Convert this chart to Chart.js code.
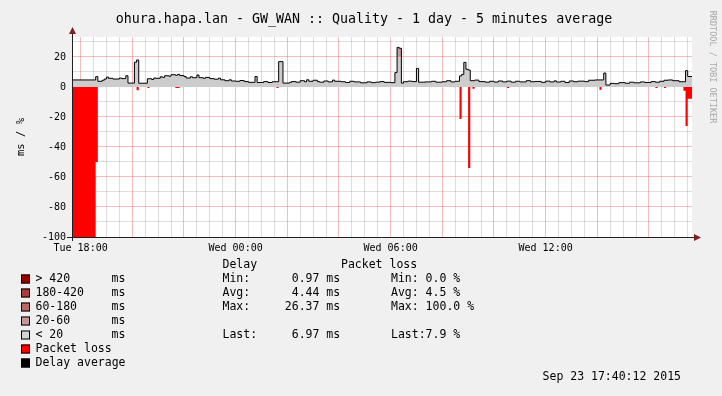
<!DOCTYPE html>
<html lang="en">
<head>
  <meta charset="UTF-8">
  <title>GW_WAN Quality</title>
  <script src="https://cdn.jsdelivr.net/npm/chart.js"></script>
  <style>
    html, body { margin: 0; padding: 0; background: #f0f0f0; }
    #wrap { position: relative; width: 722px; height: 396px; }
  </style>
</head>
<body>
  <div id="wrap"><canvas id="quality" width="722" height="396"></canvas></div>

  <script>
    // minutes since Tue 17:40 (graph start), one day wide
    var delayMin = [0, 55, 60, 70, 75, 80, 85, 95, 110, 115, 125, 130, 145, 150, 155, 175, 185, 190, 195, 205,
      210, 215, 225, 230, 240, 245, 250, 260, 265, 275, 280, 290, 295, 305, 310, 320, 330, 340, 345, 355,
      365, 370, 380, 390, 400, 410, 425, 430, 445, 455, 465, 480, 490, 505, 510, 520, 530, 540, 545, 550,
      560, 570, 575, 585, 595, 605, 610, 625, 635, 645, 655, 670, 685, 695, 705, 715, 725, 740, 750, 755,
      760, 765, 770, 780, 790, 800, 805, 820, 835, 845, 860, 870, 880, 890, 900, 905, 910, 915, 920, 925,
      935, 945, 960, 970, 980, 990, 1000, 1010, 1020, 1030, 1040, 1055, 1065, 1075, 1090, 1100, 1110, 1120, 1125, 1135,
      1145, 1155, 1165, 1175, 1190, 1200, 1215, 1235, 1240, 1250, 1260, 1270, 1285, 1295, 1305, 1320, 1330, 1345, 1355, 1365,
      1375, 1385, 1395, 1410, 1425, 1430, 1440];
    var delayMs = [4.7, 6.9, 3.8, 4.5, 5.3, 6.6, 5.8, 5.3, 6.0, 5.6, 7.5, 2.6, 16.5, 18.0, 2.5, 5.5, 5.0, 6.0, 5.8, 6.8,
      6.4, 7.5, 7.2, 8.2, 7.8, 8.4, 7.6, 7.0, 6.0, 6.8, 6.2, 8.0, 6.2, 5.8, 6.4, 5.6, 5.2, 5.9, 4.8, 4.2,
      4.8, 4.0, 3.8, 4.3, 3.6, 3.1, 7.0, 3.0, 3.6, 3.0, 3.5, 16.9, 2.6, 3.1, 3.6, 3.2, 4.2, 3.5, 4.8, 3.8,
      4.5, 3.6, 3.2, 4.0, 3.4, 4.6, 3.8, 3.5, 3.0, 3.8, 3.4, 2.8, 3.4, 2.9, 3.2, 3.6, 3.1, 2.9, 9.6, 26.4,
      25.8, 2.6, 3.5, 3.9, 3.6, 12.4, 3.2, 3.4, 3.8, 3.2, 3.5, 4.2, 3.4, 3.8, 7.4, 8.4, 16.4, 11.8, 11.3, 4.2,
      4.6, 3.6, 3.2, 3.8, 3.3, 4.0, 3.4, 3.9, 3.2, 3.8, 3.4, 4.2, 3.5, 3.7, 3.1, 3.9, 3.4, 4.1, 3.3, 3.8,
      3.0, 4.0, 3.5, 3.9, 3.6, 4.5, 4.7, 9.3, 1.3, 2.4, 2.2, 2.9, 2.5, 3.2, 2.8, 3.4, 3.0, 3.6, 3.2, 3.8,
      4.5, 4.7, 4.2, 3.5, 10.9, 7.0, 7.0];

    var lossMin = [0, 55, 60, 150, 155, 175, 180, 240, 250, 475, 480, 900, 905, 920, 925, 930, 935,
      1010, 1015, 1225, 1230, 1355, 1360, 1375, 1380, 1420, 1425, 1430, 1440];
    var lossPct = [100, 50, 0, 2.2, 0, 0.6, 0, 0.6, 0, 0.6, 0, 21.3, 0, 54, 0, 1.2, 0,
      0.6, 0, 1.8, 0, 0.6, 0, 0.6, 0, 2.5, 26, 7.9, 7.9];

    var xLabelAt = [20, 380, 740, 1100];
    var xLabels = ['Tue 18:00', 'Wed 00:00', 'Wed 06:00', 'Wed 12:00'];
    var yMin = -100, yMax = 33.33;

    var MONO = '"DejaVu Sans Mono", monospace';
    var delayPts = delayMin.map(function (m, i) { return { x: m, y: delayMs[i] }; });
    var lossPts = lossMin.map(function (m, i) { return { x: m, y: -lossPct[i] }; });

    // background, title and legend table (rrdtool look)
    var decor = {
      id: 'decor',
      beforeDraw: function (chart) {
        var c = chart.ctx, a = chart.chartArea;
        c.save();
        c.fillStyle = '#f0f0f0';
        c.fillRect(0, 0, chart.width, chart.height);
        c.fillStyle = '#ffffff';
        c.fillRect(a.left, a.top, a.right - a.left, a.bottom - a.top);
        c.restore();
      },
      afterDraw: function (chart) {
        var c = chart.ctx, a = chart.chartArea;
        c.save();
        // axes with arrows
        c.strokeStyle = '#1f1f1f';
        c.lineWidth = 1;
        c.beginPath();
        c.moveTo(67, a.bottom + 0.5); c.lineTo(696, a.bottom + 0.5);
        c.moveTo(a.left + 0.5, a.bottom + 4); c.lineTo(a.left + 0.5, 31);
        c.stroke();
        c.fillStyle = '#801f1f';
        c.beginPath();
        c.moveTo(701, a.bottom + 0.5); c.lineTo(694, a.bottom - 3); c.lineTo(694, a.bottom + 4); c.closePath();
        c.fill();
        c.beginPath();
        c.moveTo(a.left + 0.5, 27); c.lineTo(a.left - 3, 34); c.lineTo(a.left + 4, 34); c.closePath();
        c.fill();

        c.fillStyle = '#000';
        c.textBaseline = 'middle';
        c.textAlign = 'center';
        c.font = '13.3px ' + MONO;
        c.fillText('ohura.hapa.lan - GW_WAN :: Quality - 1 day - 5 minutes average', 364, 20);

        c.save();
        c.translate(21, 137);
        c.rotate(-Math.PI / 2);
        c.font = '10.5px ' + MONO;
        c.fillText('ms / %', 0, 0);
        c.restore();

        c.save();
        c.translate(712, 67);
        c.rotate(Math.PI / 2);
        c.fillStyle = '#a8a8a8';
        c.font = '8.5px ' + MONO;
        c.fillText('RRDTOOL / TOBI OETIKER', 0, 0);
        c.restore();

        c.textAlign = 'left';
        c.font = '11.5px ' + MONO;
        var rows = [
          ['#9a0000', '> 420'],
          ['#a83c3c', '180-420'],
          ['#b86a6a', '60-180'],
          ['#c89898', '20-60'],
          ['#d4d4d4', '< 20'],
          ['#ff0000', 'Packet loss'],
          ['#000000', 'Delay average']
        ];
        rows.forEach(function (r, i) {
          var y = 279 + i * 14;
          c.fillStyle = r[0];
          c.fillRect(21, y - 4.5, 9, 9);
          c.strokeStyle = '#000';
          c.strokeRect(21.5, y - 4, 8, 8);
          c.fillStyle = '#000';
          c.fillText(r[1], 35.5, y);
          if (i < 5) c.fillText('ms', 111.5, y);
        });
        c.fillText('Delay', 222.5, 265);
        c.fillText('Packet loss', 341, 265);
        c.fillText('Min:      0.97 ms', 222.5, 279);
        c.fillText('Avg:      4.44 ms', 222.5, 293);
        c.fillText('Max:     26.37 ms', 222.5, 307);
        c.fillText('Last:     6.97 ms', 222.5, 335);
        c.fillText('Min: 0.0 %', 391, 279);
        c.fillText('Avg: 4.5 %', 391, 293);
        c.fillText('Max: 100.0 %', 391, 307);
        c.fillText('Last:7.9 %', 391, 335);
        c.textAlign = 'right';
        c.fillText('Sep 23 17:40:12 2015', 681, 377);
        c.restore();
      }
    };

    var ctx = document.getElementById('quality').getContext('2d');
    var qualityChart = new Chart(ctx, {
      type: 'line',
      data: {
        datasets: [
          { // delay area, below 20 ms
            data: delayPts, stepped: 'before', fill: 'origin',
            backgroundColor: '#cccccc', borderColor: 'rgba(0,0,0,0)', borderWidth: 0, order: 4
          },
          { // part of the delay above 20 ms
            data: delayPts, stepped: 'before',
            fill: { target: { value: 20 }, above: '#c49a9a', below: 'rgba(0,0,0,0)' },
            borderColor: 'rgba(0,0,0,0)', borderWidth: 0, order: 3
          },
          { // packet loss, drawn downwards
            data: lossPts, stepped: 'before', fill: 'origin',
            backgroundColor: '#ff0000', borderColor: 'rgba(0,0,0,0)', borderWidth: 0, order: 2
          },
          { // delay average line
            data: delayPts, stepped: 'before', fill: false,
            borderColor: '#000000', borderWidth: 1, order: 1
          }
        ]
      },
      options: {
        responsive: false,
        animation: false,
        layout: { padding: { left: 0, top: 37, right: 30, bottom: 129 } },
        elements: { point: { radius: 0 }, line: { tension: 0 } },
        plugins: { legend: { display: false }, tooltip: { enabled: false } },
        scales: {
          x: {
            type: 'linear', min: 0, max: 1440,
            afterBuildTicks: function (s) {
              var t = [];
              for (var m = 20; m < 1440; m += 30) t.push({ value: m });
              s.ticks = t;
            },
            afterFit: function (s) { s.height = 30; },
            border: { display: false },
            grid: {
              drawTicks: false,
              color: function (c) {
                return (c.tick.value - 20) % 120 === 0 ? 'rgba(230,80,80,0.38)' : 'rgba(143,143,143,0.3)';
              }
            },
            ticks: {
              autoSkip: false, maxRotation: 0, minRotation: 0, padding: 5,
              color: '#000', font: { family: MONO, size: 10 },
              callback: function (v) {
                var i = xLabelAt.indexOf(v);
                return i >= 0 ? xLabels[i] : '';
              }
            }
          },
          y: {
            min: yMin, max: yMax,
            afterBuildTicks: function (s) {
              var t = [];
              for (var v = -100; v <= 30; v += 10) t.push({ value: v });
              s.ticks = t;
            },
            afterFit: function (s) { s.width = 72; },
            border: { display: false },
            grid: {
              drawTicks: false,
              color: function (c) {
                return c.tick.value % 20 === 0 ? 'rgba(230,80,80,0.38)' : 'rgba(143,143,143,0.3)';
              }
            },
            ticks: {
              padding: 6, color: '#000', font: { family: MONO, size: 10 },
              callback: function (v) { return v % 20 === 0 ? String(v) : ''; }
            }
          }
        }
      },
      plugins: [decor]
    });
  </script>
</body>
</html>
